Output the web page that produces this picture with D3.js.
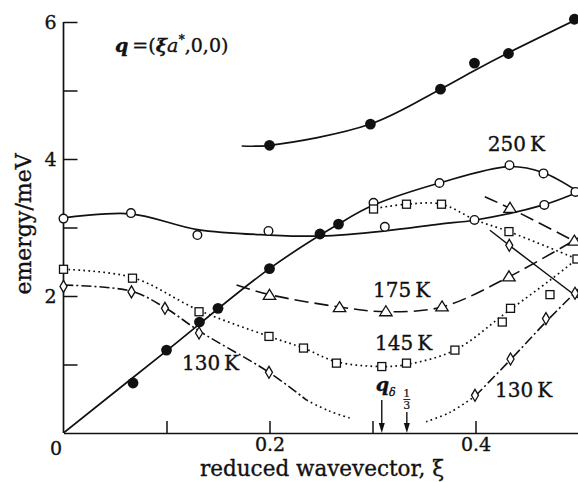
<!DOCTYPE html>
<html>
<head>
<meta charset="utf-8">
<script src="https://cdn.jsdelivr.net/npm/d3@7"></script>
<style>
  body { margin: 0; background: #fff; }
  text { font-family: "DejaVu Serif", "Liberation Serif", serif; fill: #111; stroke: #111; stroke-width: 0.35px; }
</style>
</head>
<body>
<svg id="chart" width="578" height="482"></svg>
<script>
// ---- measured points: [reduced wavevector ξ, energy meV] ----
const filledLow  = [[0.0675,0.73],[0.100,1.21],[0.132,1.62],[0.150,1.82],[0.200,2.40],[0.249,2.905],[0.267,3.05]];
const filledHigh = [[0.200,4.20],[0.298,4.51],[0.366,5.02],[0.399,5.40],[0.432,5.54],[0.496,6.04]];
const open250    = [[0,3.13],[0.0655,3.21],[0.130,2.89],[0.199,2.95],[0.301,3.36],[0.312,3.01],[0.365,3.65],
                    [0.399,3.11],[0.433,3.91],[0.466,3.79],[0.4668,3.33],[0.497,3.52]];
const squares145 = [[0,2.39],[0.067,2.26],[0.1316,1.77],[0.1995,1.41],[0.233,1.24],[0.265,1.02],[0.309,0.97],
                    [0.333,1.02],[0.380,1.21],[0.426,1.62],[0.434,1.82],[0.4723,2.02],[0.4985,2.54],
                    [0.301,3.27],[0.333,3.34],[0.367,3.34],[0.4325,2.94]];
const triangles175 = [[0.200,2.01],[0.268,1.83],[0.313,1.77],[0.3675,1.84],[0.4325,2.28],[0.496,2.80],[0.4335,3.28]];
const diamonds130  = [[0,2.14],[0.066,2.06],[0.0985,1.82],[0.1316,1.46],[0.1995,0.886],
                      [0.3995,0.55],[0.434,1.08],[0.4684,1.67],[0.4966,2.04],[0.4328,2.74]];

// ---- guide curves drawn through the points ----
const acousticCurve = [[0,0],[0.1,1.2],[0.2,2.4],[0.267,3.05],[0.3,3.32],[0.365,3.65],[0.433,3.89],[0.466,3.8],[0.5,3.52]];
const lower250Curve = [[0,3.14],[0.065,3.2],[0.13,2.97],[0.2,2.89],[0.25,2.875],[0.312,2.95],[0.365,3.05],[0.4,3.11],[0.466,3.33],[0.5,3.52]];
const upperCurve    = [[0.173,4.19],[0.2,4.2],[0.298,4.51],[0.366,5.02],[0.4,5.3],[0.432,5.55],[0.5,6.05]];
const low145Curve   = [[0,2.39],[0.067,2.27],[0.1316,1.79],[0.1995,1.41],[0.233,1.24],[0.265,1.04],[0.309,0.97],
                       [0.333,1.0],[0.38,1.21],[0.43,1.76],[0.4723,2.23],[0.4985,2.54]];
const high145Curve  = [[0.303,3.28],[0.333,3.34],[0.367,3.34],[0.4,3.11],[0.4325,2.94],[0.4985,2.54]];
const low175Curve   = [[0.168,2.16],[0.2,2.02],[0.268,1.84],[0.313,1.77],[0.3675,1.84],[0.4325,2.28],[0.5,2.85]];
const high175Curve  = [[0.409,3.45],[0.4335,3.28],[0.5,2.77]];
const left130DashDot = [[0,2.16],[0.066,2.07],[0.0985,1.83],[0.1316,1.49],[0.1995,0.886],[0.236,0.48]];
const left130Dotted  = [[0.236,0.48],[0.258,0.32],[0.28,0.21]];
const right130Dotted = [[0.352,0.165],[0.375,0.30],[0.3998,0.54]];
const right130DashDot = [[0.3998,0.54],[0.434,1.07],[0.467,1.6],[0.5,2.1]];
const upper130Curve  = [[0.414,2.96],[0.4328,2.74],[0.5,1.97]];

// ---- axis ticks ----
const yTicks = [1,2,3,4,5,6];
const yTickLabels = {2:"2", 4:"4", 6:"6"};
const xTicks = [0.1,0.2,0.3,0.4];
const xTickLabels = {0.2:"0.2", 0.4:"0.4"};

// ---- marked wavevectors on the axis ----
const qDelta = 0.309;
const qThird = 1/3;

const svg = d3.select("#chart");
const x = d3.scaleLinear().domain([0, 0.5]).range([63.5, 578.5]);
const y = d3.scaleLinear().domain([0, 6]).range([433, 22]);

svg.append("defs").append("clipPath").attr("id", "plot")
  .append("rect").attr("x", x(0)).attr("y", 0).attr("width", x(0.5) - x(0)).attr("height", y(0));

// axes
const gy = svg.append("g").attr("transform", `translate(${x(0)},0)`)
  .call(d3.axisLeft(y).tickValues(yTicks).tickSizeInner(-14).tickSizeOuter(0).tickPadding(7)
        .tickFormat(d => yTickLabels[d] || ""));
gy.select(".domain").attr("d", `M0,${y(0)}V${y(6)}`);
const gx = svg.append("g").attr("transform", `translate(0,${y(0)})`)
  .call(d3.axisBottom(x).tickValues(xTicks).tickSizeInner(-12).tickSizeOuter(0).tickPadding(4)
        .tickFormat(d => xTickLabels[d] || ""));
[gx, gy].forEach(g => {
  g.selectAll(".domain").attr("stroke", "#111").attr("stroke-width", 1.7);
  g.selectAll(".tick line").attr("stroke", "#111").attr("stroke-width", 1.5);
  g.selectAll(".tick text").attr("font-size", 19).attr("font-family", "DejaVu Serif").attr("fill", "#111");
});
svg.append("text").attr("x", 56).attr("y", 455).attr("text-anchor", "middle").attr("font-size", 19).text("0");

// axis titles
svg.append("text").attr("x", 322).attr("y", 476).attr("text-anchor", "middle").attr("font-size", 21.5)
  .text("reduced wavevector, ξ");
svg.append("text").attr("transform", "translate(31,224) rotate(-90)").attr("text-anchor", "middle")
  .attr("font-size", 22).text("emergy/meV");

// curves
const plot = svg.append("g").attr("clip-path", "url(#plot)");
const line = d3.line().x(d => x(d[0])).y(d => y(d[1])).curve(d3.curveCatmullRom.alpha(0.5));
const styles = {
  solid:   {w: 1.7, dash: null},
  thin:    {w: 1.5, dash: null},
  dotted:  {w: 1.7, dash: "1.7 3.3"},
  dashed:  {w: 1.6, dash: "14 6"},
  dashdot: {w: 1.6, dash: "10 3 2 3"}
};
const curves = [
  [acousticCurve, "solid"], [lower250Curve, "solid"], [upperCurve, "solid"],
  [low145Curve, "dotted"], [high145Curve, "dotted"],
  [low175Curve, "dashed"], [high175Curve, "dashed"],
  [left130DashDot, "dashdot"], [left130Dotted, "dotted"],
  [right130Dotted, "dotted"], [right130DashDot, "dashdot"], [upper130Curve, "thin"]
];
curves.forEach(([pts, st]) => {
  plot.append("path").attr("d", line(pts)).attr("fill", "none").attr("stroke", "#111")
    .attr("stroke-width", styles[st].w).attr("stroke-dasharray", styles[st].dash);
});

// markers
const mk = svg.append("g");
function put(pts, draw) {
  pts.forEach(p => draw(x(p[0]), y(p[1])));
}
put(filledLow.concat(filledHigh), (cx, cy) =>
  mk.append("circle").attr("cx", cx).attr("cy", cy).attr("r", 5.4).attr("fill", "#111"));
put(open250, (cx, cy) =>
  mk.append("circle").attr("cx", cx).attr("cy", cy).attr("r", 4.3).attr("fill", "#fff")
    .attr("stroke", "#111").attr("stroke-width", 1.4));
put(squares145, (cx, cy) =>
  mk.append("rect").attr("x", cx - 4).attr("y", cy - 4).attr("width", 8).attr("height", 8)
    .attr("fill", "#fff").attr("stroke", "#111").attr("stroke-width", 1.3));
put(triangles175, (cx, cy) =>
  mk.append("path").attr("d", `M${cx},${cy - 6}L${cx + 6.2},${cy + 4}L${cx - 6.2},${cy + 4}Z`)
    .attr("fill", "#fff").attr("stroke", "#111").attr("stroke-width", 1.3));
put(diamonds130, (cx, cy) =>
  mk.append("path").attr("d", `M${cx},${cy - 6}L${cx + 3.5},${cy}L${cx},${cy + 6}L${cx - 3.5},${cy}Z`)
    .attr("fill", "#fff").attr("stroke", "#111").attr("stroke-width", 1.3));

// temperature labels
const tLabels = [["250\u2009K", 0.412, 4.12], ["175\u2009K", 0.3005, 1.985], ["145\u2009K", 0.3024, 1.21],
                 ["130\u2009K", 0.115, 0.92], ["130\u2009K", 0.419, 0.526]];
tLabels.forEach(([t, a, b]) =>
  svg.append("text").attr("x", x(a)).attr("y", y(b)).attr("font-size", 20).text(t));

// wavevector definition
const f = svg.append("text").attr("x", 115).attr("y", 52).attr("font-size", 19);
f.append("tspan").attr("font-weight", "bold").attr("font-style", "italic").text("q");
f.append("tspan").attr("dx", 4).text("=(");
f.append("tspan").attr("font-weight", "bold").attr("font-style", "italic").text("ξ");
f.append("tspan").attr("font-style", "italic").text("a");
f.append("tspan").attr("font-size", 12).attr("dy", -8).attr("dx", 0.5).text("*");
f.append("tspan").attr("dy", 8).attr("dx", 0).text(",0,0)");

// arrows marking q_δ and 1/3
function arrow(xv, top) {
  const px = x(xv), bot = y(0);
  svg.append("line").attr("x1", px).attr("x2", px).attr("y1", top).attr("y2", bot - 6)
    .attr("stroke", "#111").attr("stroke-width", 1.4);
  svg.append("path").attr("d", `M${px},${bot}L${px - 3},${bot - 10}L${px + 3},${bot - 10}Z`).attr("fill", "#111");
}
arrow(qDelta, 400);
arrow(qThird, 412);
const qd = svg.append("text").attr("x", x(qDelta) - 6).attr("y", 391).attr("font-size", 19);
qd.append("tspan").attr("font-weight", "bold").attr("font-style", "italic").text("q");
qd.append("tspan").attr("font-size", 11).attr("dy", 5).attr("font-style", "italic").text("δ");
svg.append("text").attr("x", x(qThird)).attr("y", 397).attr("text-anchor", "middle").attr("font-size", 11)
  .style("stroke-width", "0.2px").text("1");
svg.append("line").attr("x1", x(qThird) - 3.5).attr("x2", x(qThird) + 3.5).attr("y1", 399.5).attr("y2", 399.5)
  .attr("stroke", "#111").attr("stroke-width", 0.9);
svg.append("text").attr("x", x(qThird)).attr("y", 409).attr("text-anchor", "middle").attr("font-size", 11)
  .style("stroke-width", "0.2px").text("3");
</script>
</body>
</html>
